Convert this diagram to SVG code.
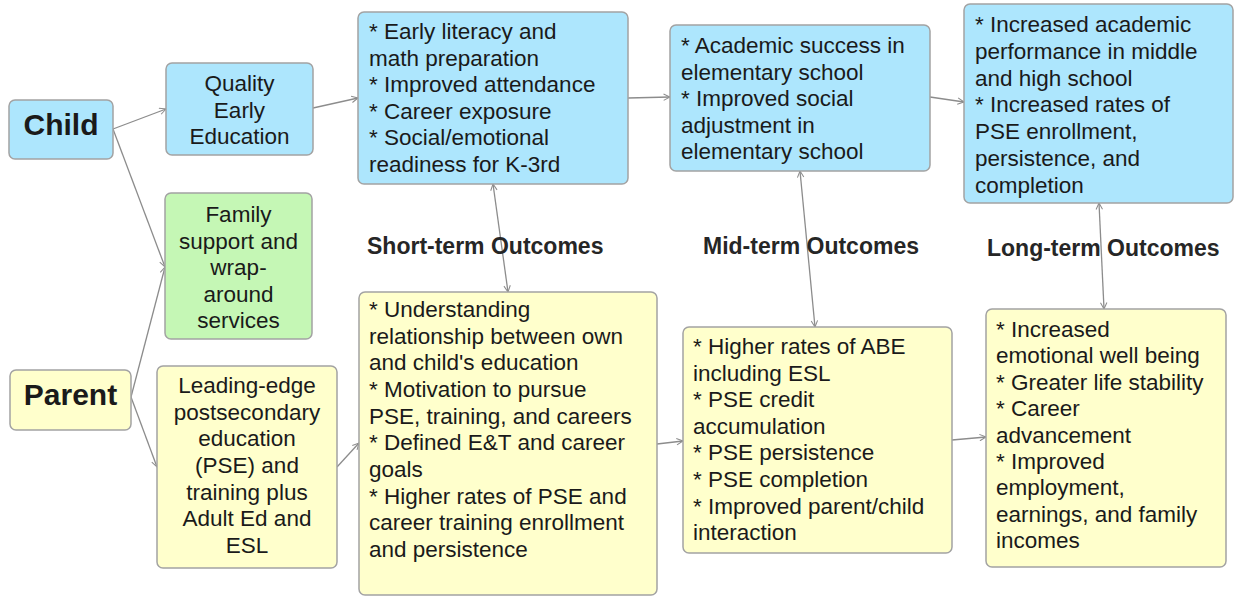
<svg xmlns="http://www.w3.org/2000/svg" width="1234" height="596" viewBox="0 0 1234 596">
<style>
.box{stroke:#a3a3a3;stroke-width:1.5}
.blue{fill:#ade6fd}
.green{fill:#c5f7b5}
.yellow{fill:#ffffcc}
text{font-family:"Liberation Sans",Arial,sans-serif;fill:#1a1a1a}
.t{font-size:22.5px}
.c{text-anchor:middle}
.big{font-size:30px;font-weight:bold}
.lbl{font-size:23px;font-weight:bold;fill:#262626}
.conn line{stroke:#8c8c8c;stroke-width:1.3;fill:none}
</style>
<defs>
<marker id="ah" viewBox="0 0 10 10" refX="9" refY="5" markerWidth="8" markerHeight="8" markerUnits="userSpaceOnUse" orient="auto-start-reverse">
<path d="M1,1 L9,5 L1,9" fill="none" stroke="#8c8c8c" stroke-width="1.3"/>
</marker>
</defs>
<rect width="1234" height="596" fill="#ffffff"/>

<g id="connectors" class="conn">
<line x1="113" y1="129" x2="166" y2="109" marker-end="url(#ah)"/>
<line x1="113" y1="129" x2="165" y2="267" marker-end="url(#ah)"/>
<line x1="131" y1="397" x2="165" y2="267" marker-end="url(#ah)"/>
<line x1="131" y1="397" x2="157" y2="467" marker-end="url(#ah)"/>
<line x1="313" y1="108" x2="358" y2="98" marker-end="url(#ah)"/>
<line x1="337" y1="467" x2="359" y2="443" marker-end="url(#ah)"/>
<line x1="628" y1="98" x2="670" y2="97" marker-end="url(#ah)"/>
<line x1="930" y1="97" x2="964" y2="102" marker-end="url(#ah)"/>
<line x1="657" y1="444" x2="683" y2="441" marker-end="url(#ah)"/>
<line x1="952" y1="440" x2="986" y2="437" marker-end="url(#ah)"/>
<line x1="493" y1="184" x2="508" y2="292" marker-start="url(#ah)" marker-end="url(#ah)"/>
<line x1="800" y1="171" x2="815" y2="327" marker-start="url(#ah)" marker-end="url(#ah)"/>
<line x1="1099" y1="203" x2="1104" y2="309" marker-start="url(#ah)" marker-end="url(#ah)"/>
</g>

<g id="child">
<rect class="box blue" x="9" y="100" width="104" height="59" rx="6"/>
<text class="big c" x="61" y="135">Child</text>
</g>

<g id="parent">
<rect class="box yellow" x="10" y="370" width="121" height="60" rx="6"/>
<text class="big c" x="70.5" y="405">Parent</text>
</g>

<g id="quality">
<rect class="box blue" x="166" y="63" width="147" height="92" rx="6"/>
<text class="t c" x="239.5" y="91">Quality</text>
<text class="t c" x="239.5" y="117.5">Early</text>
<text class="t c" x="239.5" y="144">Education</text>
</g>

<g id="family">
<rect class="box green" x="165" y="193" width="147" height="146" rx="6"/>
<text class="t c" x="238.5" y="222">Family</text>
<text class="t c" x="238.5" y="248.5">support and</text>
<text class="t c" x="238.5" y="275">wrap-</text>
<text class="t c" x="238.5" y="301.5">around</text>
<text class="t c" x="238.5" y="328">services</text>
</g>

<g id="leading">
<rect class="box yellow" x="157" y="366" width="180" height="202" rx="6"/>
<text class="t c" x="247" y="393">Leading-edge</text>
<text class="t c" x="247" y="419.7">postsecondary</text>
<text class="t c" x="247" y="446.3">education</text>
<text class="t c" x="247" y="473">(PSE) and</text>
<text class="t c" x="247" y="499.7">training plus</text>
<text class="t c" x="247" y="526.3">Adult Ed and</text>
<text class="t c" x="247" y="553">ESL</text>
</g>

<g id="short-child">
<rect class="box blue" x="358" y="12" width="270" height="172" rx="6"/>
<text class="t" x="369" y="39">* Early literacy and</text>
<text class="t" x="369" y="65.6">math preparation</text>
<text class="t" x="369" y="92.2">* Improved attendance</text>
<text class="t" x="369" y="118.8">* Career exposure</text>
<text class="t" x="369" y="145.4">* Social/emotional</text>
<text class="t" x="369" y="172">readiness for K-3rd</text>
</g>

<g id="short-parent">
<rect class="box yellow" x="359" y="292" width="298" height="303" rx="6"/>
<text class="t" x="369" y="317">* Understanding</text>
<text class="t" x="369" y="343.6">relationship between own</text>
<text class="t" x="369" y="370.3">and child's education</text>
<text class="t" x="369" y="397">* Motivation to pursue</text>
<text class="t" x="369" y="423.6">PSE, training, and careers</text>
<text class="t" x="369" y="450.3">* Defined E&amp;T and career</text>
<text class="t" x="369" y="477">goals</text>
<text class="t" x="369" y="503.6">* Higher rates of PSE and</text>
<text class="t" x="369" y="530.3">career training enrollment</text>
<text class="t" x="369" y="557">and persistence</text>
</g>

<g id="mid-child">
<rect class="box blue" x="670" y="25" width="260" height="146" rx="6"/>
<text class="t" x="681" y="53">* Academic success in</text>
<text class="t" x="681" y="79.5">elementary school</text>
<text class="t" x="681" y="106">* Improved social</text>
<text class="t" x="681" y="132.5">adjustment in</text>
<text class="t" x="681" y="159">elementary school</text>
</g>

<g id="mid-parent">
<rect class="box yellow" x="683" y="327" width="269" height="226" rx="6"/>
<text class="t" x="693" y="354">* Higher rates of ABE</text>
<text class="t" x="693" y="380.6">including ESL</text>
<text class="t" x="693" y="407.2">* PSE credit</text>
<text class="t" x="693" y="433.8">accumulation</text>
<text class="t" x="693" y="460.4">* PSE persistence</text>
<text class="t" x="693" y="487">* PSE completion</text>
<text class="t" x="693" y="513.6">* Improved parent/child</text>
<text class="t" x="693" y="540.2">interaction</text>
</g>

<g id="long-child">
<rect class="box blue" x="964" y="4" width="269" height="199" rx="6"/>
<text class="t" x="975" y="32.3">* Increased academic</text>
<text class="t" x="975" y="59">performance in middle</text>
<text class="t" x="975" y="85.7">and high school</text>
<text class="t" x="975" y="112.4">* Increased rates of</text>
<text class="t" x="975" y="139.1">PSE enrollment,</text>
<text class="t" x="975" y="165.8">persistence, and</text>
<text class="t" x="975" y="192.5">completion</text>
</g>

<g id="long-parent">
<rect class="box yellow" x="986" y="309" width="240" height="258" rx="6"/>
<text class="t" x="996" y="336.7">* Increased</text>
<text class="t" x="996" y="363.2">emotional well being</text>
<text class="t" x="996" y="389.6">* Greater life stability</text>
<text class="t" x="996" y="416">* Career</text>
<text class="t" x="996" y="442.5">advancement</text>
<text class="t" x="996" y="469">* Improved</text>
<text class="t" x="996" y="495.4">employment,</text>
<text class="t" x="996" y="521.8">earnings, and family</text>
<text class="t" x="996" y="548.3">incomes</text>
</g>

<g id="labels">
<text class="lbl" x="367" y="254">Short-term Outcomes</text>
<text class="lbl" x="703" y="254">Mid-term Outcomes</text>
<text class="lbl" x="987" y="256">Long-term Outcomes</text>
</g>
</svg>
